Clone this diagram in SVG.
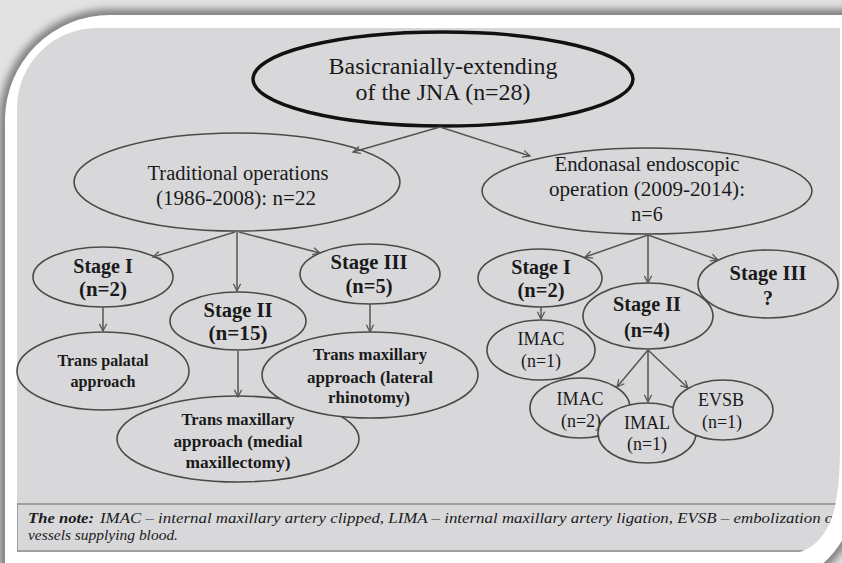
<svg xmlns="http://www.w3.org/2000/svg" width="842" height="563" viewBox="0 0 842 563">
<defs>
  <filter id="blur" x="-10%" y="-10%" width="120%" height="120%"><feGaussianBlur stdDeviation="4.5"/></filter>
  <clipPath id="panelClip">
    <path d="M17 552 L17 108 A80 80 0 0 1 97 28 L840 28 L840 445 C840 505 832 540 800 552 Z"/>
  </clipPath>
  <marker id="arr" viewBox="0 0 10 10" refX="9" refY="5" markerWidth="9" markerHeight="9" markerUnits="userSpaceOnUse" orient="auto">
    <path d="M1 1 L9 5 L1 9" fill="none" stroke="#555" stroke-width="1.4"/>
  </marker>
  <style>
    .n { fill:#d8d8da; stroke:#4a4a4a; stroke-width:1.6; }
    .root { fill:#d8d8da; stroke:#111; stroke-width:3.4; }
    .t { font-family:"Liberation Serif","Times New Roman",serif; fill:#1a1a1a; text-anchor:middle; }
    .r24 { font-size:24px; }
    .r20 { font-size:20px; }
    .b20 { font-size:20px; font-weight:bold; }
    .b17 { font-size:17px; font-weight:bold; }
    .r18 { font-size:18px; }
    .c { fill:none; stroke:#555; stroke-width:1.5; marker-end:url(#arr); }
    .note { font-family:"Liberation Serif","Times New Roman",serif; font-size:14.5px; font-style:italic; fill:#1a1a1a; }
  </style>
</defs>

<!-- background and frame -->
<rect x="0" y="0" width="842" height="563" fill="#e2e2e2"/>
<path d="M5 580 L5 120 A105 105 0 0 1 110 15 L860 15 L860 470 C860 520 840 558 800 580 Z" fill="none" stroke="#6e6e6e" stroke-width="10" filter="url(#blur)"/>
<path d="M5 580 L5 120 A105 105 0 0 1 110 15 L860 15 L860 470 C860 520 840 558 800 580 Z" fill="#ffffff"/>
<path d="M17 552 L17 108 A80 80 0 0 1 97 28 L840 28 L840 445 C840 505 832 540 800 552 Z" fill="#d8d8da"/>

<!-- note box -->
<g id="note" clip-path="url(#panelClip)">
  <rect x="17" y="504" width="840" height="47" fill="#d8d8da" stroke="#8c8c8c" stroke-width="1.5"/>
  <text class="note" x="28" y="523" font-weight="bold" textLength="66" lengthAdjust="spacingAndGlyphs">The note:</text>
  <text class="note" x="100" y="523" textLength="738" lengthAdjust="spacingAndGlyphs">IMAC – internal maxillary artery clipped, LIMA – internal maxillary artery ligation, EVSB – embolization of</text>
  <text class="note" x="28" y="540" textLength="150" lengthAdjust="spacingAndGlyphs">vessels supplying blood.</text>
</g>

<!-- nodes -->
<g id="root">
  <ellipse class="root" cx="443" cy="79" rx="190" ry="47"/>
  <text class="t r24" x="443" y="74" textLength="229" lengthAdjust="spacingAndGlyphs">Basicranially-extending</text>
  <text class="t r24" x="443" y="100" textLength="175" lengthAdjust="spacingAndGlyphs">of the JNA (n=28)</text>
</g>
<g id="traditional">
  <ellipse class="n" cx="237" cy="182" rx="163" ry="49"/>
  <text class="t r20" x="238" y="180" textLength="181" lengthAdjust="spacingAndGlyphs">Traditional operations</text>
  <text class="t r20" x="236" y="205" textLength="160" lengthAdjust="spacingAndGlyphs">(1986-2008): n=22</text>
</g>
<g id="endonasal">
  <ellipse class="n" cx="647" cy="191" rx="165" ry="43"/>
  <text class="t r20" x="647" y="171" textLength="185" lengthAdjust="spacingAndGlyphs">Endonasal endoscopic</text>
  <text class="t r20" x="647" y="196" textLength="196" lengthAdjust="spacingAndGlyphs">operation (2009-2014):</text>
  <text class="t r20" x="647" y="221">n=6</text>
</g>
<g id="t-stage1">
  <ellipse class="n" cx="103" cy="277" rx="70" ry="30"/>
  <text class="t b20" x="103" y="273">Stage I</text>
  <text class="t b20" x="103" y="296" textLength="48" lengthAdjust="spacingAndGlyphs">(n=2)</text>
</g>
<g id="t-stage2">
  <ellipse class="n" cx="238" cy="321" rx="68" ry="29"/>
  <text class="t b20" x="238" y="317" textLength="69" lengthAdjust="spacingAndGlyphs">Stage II</text>
  <text class="t b20" x="238" y="340" textLength="59" lengthAdjust="spacingAndGlyphs">(n=15)</text>
</g>
<g id="t-stage3">
  <ellipse class="n" cx="370" cy="274" rx="70" ry="30"/>
  <text class="t b20" x="369" y="269" textLength="77" lengthAdjust="spacingAndGlyphs">Stage III</text>
  <text class="t b20" x="369" y="293" textLength="47" lengthAdjust="spacingAndGlyphs">(n=5)</text>
</g>
<g id="trans-palatal">
  <ellipse class="n" cx="103" cy="371" rx="86" ry="39"/>
  <text class="t b17" x="103" y="366" textLength="91" lengthAdjust="spacingAndGlyphs">Trans palatal</text>
  <text class="t b17" x="103" y="387" textLength="65" lengthAdjust="spacingAndGlyphs">approach</text>
</g>
<g id="trans-medial">
  <ellipse class="n" cx="238" cy="439" rx="121" ry="43"/>
  <text class="t b17" x="238" y="425" textLength="113" lengthAdjust="spacingAndGlyphs">Trans maxillary</text>
  <text class="t b17" x="238" y="447" textLength="129" lengthAdjust="spacingAndGlyphs">approach (medial</text>
  <text class="t b17" x="238" y="468" textLength="105" lengthAdjust="spacingAndGlyphs">maxillectomy)</text>
</g>
<g id="trans-lateral">
  <ellipse class="n" cx="370" cy="375" rx="108" ry="43"/>
  <text class="t b17" x="370" y="360" textLength="114" lengthAdjust="spacingAndGlyphs">Trans maxillary</text>
  <text class="t b17" x="370" y="383" textLength="126" lengthAdjust="spacingAndGlyphs">approach (lateral</text>
  <text class="t b17" x="369" y="403" textLength="82" lengthAdjust="spacingAndGlyphs">rhinotomy)</text>
</g>
<g id="e-stage1">
  <ellipse class="n" cx="540" cy="278" rx="62" ry="29"/>
  <text class="t b20" x="541" y="274">Stage I</text>
  <text class="t b20" x="541" y="297" textLength="47" lengthAdjust="spacingAndGlyphs">(n=2)</text>
</g>
<g id="e-stage2">
  <ellipse class="n" cx="648" cy="316" rx="65" ry="33"/>
  <text class="t b20" x="647" y="311" textLength="68" lengthAdjust="spacingAndGlyphs">Stage II</text>
  <text class="t b20" x="647" y="337" textLength="46" lengthAdjust="spacingAndGlyphs">(n=4)</text>
</g>
<g id="e-stage3">
  <ellipse class="n" cx="768" cy="284" rx="70" ry="34"/>
  <text class="t b20" x="768" y="280" textLength="77" lengthAdjust="spacingAndGlyphs">Stage III</text>
  <text class="t b20" x="768" y="305">?</text>
</g>
<g id="imac1">
  <ellipse class="n" cx="541" cy="350" rx="54" ry="30"/>
  <text class="t r18" x="541" y="345">IMAC</text>
  <text class="t r18" x="541" y="367">(n=1)</text>
</g>
<g id="imac2">
  <ellipse class="n" cx="580" cy="408" rx="50" ry="30"/>
  <text class="t r18" x="580" y="405">IMAC</text>
  <text class="t r18" x="581" y="427">(n=2)</text>
</g>
<g id="imal">
  <ellipse class="n" cx="647" cy="433" rx="49" ry="30"/>
  <text class="t r18" x="647" y="429">IMAL</text>
  <text class="t r18" x="647" y="450">(n=1)</text>
</g>
<g id="evsb">
  <ellipse class="n" cx="723" cy="410" rx="50" ry="30"/>
  <text class="t r18" x="721" y="406">EVSB</text>
  <text class="t r18" x="722" y="428">(n=1)</text>
</g>

<!-- connectors -->
<g id="connectors">
  <line class="c" x1="440" y1="127" x2="353" y2="152"/>
  <line class="c" x1="440" y1="127" x2="530" y2="156"/>
  <line class="c" x1="235" y1="232" x2="153" y2="257"/>
  <line class="c" x1="237" y1="232" x2="237" y2="291"/>
  <line class="c" x1="239" y1="232" x2="320" y2="253"/>
  <line class="c" x1="103" y1="307" x2="103" y2="331"/>
  <line class="c" x1="238" y1="351" x2="238" y2="397"/>
  <line class="c" x1="370" y1="304" x2="370" y2="332"/>
  <line class="c" x1="648" y1="235" x2="585" y2="257"/>
  <line class="c" x1="648" y1="235" x2="648" y2="283"/>
  <line class="c" x1="648" y1="235" x2="718" y2="260"/>
  <line class="c" x1="541" y1="307" x2="541" y2="319"/>
  <line class="c" x1="648" y1="350" x2="617" y2="387"/>
  <line class="c" x1="648" y1="350" x2="648" y2="402"/>
  <line class="c" x1="648" y1="350" x2="688" y2="388"/>
</g>
</svg>
